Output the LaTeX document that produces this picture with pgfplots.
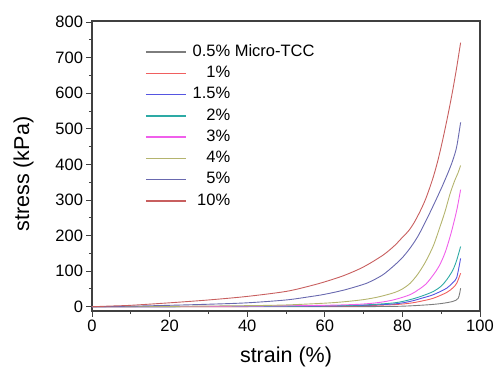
\documentclass[border=0pt]{standalone}
\usepackage{fontspec}
\setmainfont{Liberation Sans}
\usepackage{pgfplots}
\pgfplotsset{compat=1.18}
\definecolor{colA}{RGB}{125,125,125}
\definecolor{colB}{RGB}{240,95,95}
\definecolor{colC}{RGB}{85,85,225}
\definecolor{colD}{RGB}{45,170,165}
\definecolor{colE}{RGB}{240,95,235}
\definecolor{colF}{RGB}{180,180,110}
\definecolor{colG}{RGB}{105,105,175}
\definecolor{colH}{RGB}{200,95,95}
\begin{document}
\begin{tikzpicture}
\useasboundingbox (-92pt,-59pt) rectangle (404pt,311pt);
\begin{axis}[
  scale only axis, width=388pt, height=290pt,
  xmin=0, xmax=100, ymin=-12, ymax=803,
  xtick={0,20,...,100}, minor x tick num=1,
  ytick={0,100,...,800}, minor y tick num=1,
  tick pos=left, tick align=outside,
  major tick length=5.5pt, minor tick length=3pt,
  every tick/.style={color=black!75, line width=0.9pt},
  axis line style={black!75, line width=1.2pt},
  tick label style={font=\fontsize{16.5}{18}\selectfont},
  /pgf/number format/assume math mode=true,
  label style={font=\fontsize{21.5}{24}\selectfont},
  xlabel={strain (\%)}, ylabel={stress (kPa)},
  xlabel style={at={(rel axis cs:0.5,0)}, anchor=base, yshift=-51pt},
  ylabel style={at={([xshift=-68.5pt]rel axis cs:0,0.472)}, anchor=center, rotate=0},
  legend cell align=left,
  legend style={at={(rel axis cs:0.1366,0.9207)}, anchor=north west, draw=none, fill=none,
    font=\fontsize{16.5}{18}\selectfont, inner sep=0pt, row sep=5.8pt, column sep=6pt,
    nodes={inner sep=0pt, text height=12pt, text depth=3.5pt}},
  legend image code/.code={\draw[#1, line width=1.4pt] (0pt,0pt) -- (40pt,0pt);},
  every axis plot/.append style={line width=0.9pt, smooth, tension=0.5},
]
\addplot[color=colA] coordinates {(0,0)(60,0.3)(78,1)(86,5)(90,9)(93,15)(94.4,24)(95,52)};
\addlegendentry{0.5\% Micro-TCC}
\addplot[color=colB] coordinates {(0,0)(40,0.5)(60,1.5)(70,3)(78,6)(82,10)(85,16)(88,24)(91.4,40)(93,53)(94,66)(95,94)};
\addlegendentry{\phantom{1.}1\%}
\addplot[color=colC] coordinates {(0,0)(40,1)(60,2)(70,4)(78,8)(82,15)(85,24)(88,34)(91.4,52)(93,68)(94,82)(95,136)};
\addlegendentry{1.5\%}
\addplot[color=colD] coordinates {(0,0)(40,1)(60,2.5)(70,5)(78,11)(82,20)(85,30)(88,43)(90,58)(91.5,77)(93,103)(94,131)(95,169)};
\addlegendentry{\phantom{1.}2\%}
\addplot[color=colE] coordinates {(0,0)(20,0.5)(40,1.5)(60,4)(69,7)(74,12)(78,20)(82,34)(84,47)(86,63)(88,90)(89.5,115)(91,152)(92.5,205)(94,271)(95,329)};
\addlegendentry{\phantom{1.}3\%}
\addplot[color=colF] coordinates {(0,0)(20,1)(40,3)(50,5)(60,10)(65,14)(70,20)(74,28)(78,40)(80,50)(82,66)(84,92)(86,127)(88,172)(89.7,225)(91,268)(92.3,318)(93.5,355)(94.3,375)(95,397)};
\addlegendentry{\phantom{1.}4\%}
\addplot[color=colG] coordinates {(0,0)(10,1.5)(20,4)(30,7)(40,11)(50,19)(56,28)(60,35)(65,47)(70,63)(72,72)(75,90)(78,117)(80,138)(82,165)(84,198)(86,240)(88,285)(90,332)(91,357)(92,383)(93,412)(94,450)(95,518)};
\addlegendentry{\phantom{1.}5\%}
\addplot[color=colH] coordinates {(0,0)(5,2)(10,4)(20,11)(30,19)(40,29)(50,43)(56,58)(60,70)(65,88)(70,112)(75,145)(78,172)(80,195)(81,206)(82,219)(83,236)(84,256)(85,278)(86,303)(87,333)(88,366)(89,405)(90,450)(91,500)(92,553)(93,610)(94,673)(95,742)};
\addlegendentry{\phantom{.}10\%}
\end{axis}
\end{tikzpicture}
\end{document}
